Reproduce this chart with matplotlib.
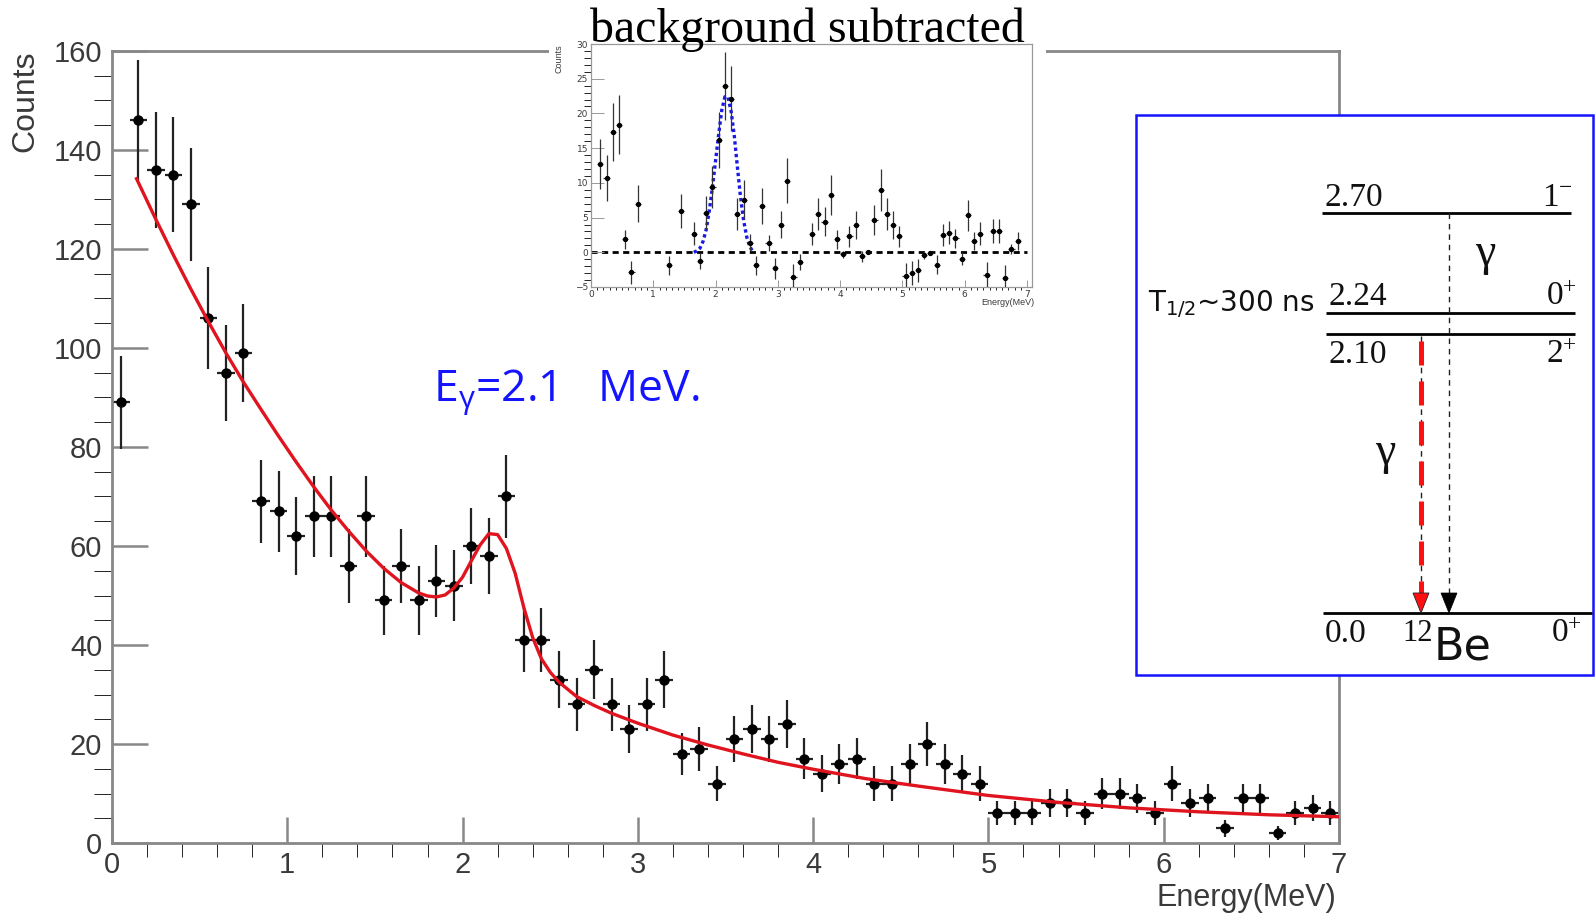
import numpy as np
import matplotlib
matplotlib.use("Agg")
import matplotlib.pyplot as plt
from matplotlib.patches import Rectangle, Polygon

# ---------------- data ----------------
counts = [89, 146, 136, 135, 129, 106, 95, 99, 69, 67,
          62, 66, 66, 56, 66, 49, 56, 49, 53, 52,
          60, 58, 70, 41, 41, 33, 28, 35, 28, 23,
          28, 33, 18, 19, 12, 21, 23, 21, 24, 17,
          14, 16, 17, 12, 12, 16, 20, 16, 14, 12,
          6, 6, 6, 8, 8, 6, 10, 10, 9, 6,
          12, 8, 9, 3, 9, 9, 2, 6, 7, 6]
bin_width = 0.1
energy = np.round(np.arange(len(counts)) * bin_width + bin_width / 2, 2)

fit_x = [0.14, 0.25, 0.35, 0.45, 0.55, 0.65, 0.75, 0.85, 0.95, 1.05, 1.15, 1.25,
         1.35, 1.45, 1.55, 1.65, 1.75, 1.80, 1.85, 1.90, 1.95, 2.00, 2.05, 2.10,
         2.15, 2.20, 2.25, 2.30, 2.35, 2.40, 2.45, 2.50, 2.55, 2.65, 2.75, 2.85,
         3.00, 3.20, 3.40, 3.60, 3.80, 4.00, 4.30, 4.60, 5.00, 5.40, 5.80, 6.20,
         6.60, 7.00]
fit_y = [134.2, 126.0, 118.8, 111.9, 105.3, 99.0, 93.1, 87.6, 82.2, 77.0, 72.0, 67.3,
         63.0, 59.0, 55.5, 52.6, 50.5, 49.9, 49.7, 50.1, 51.5, 53.7, 57.0, 60.2,
         62.5, 62.3, 59.5, 54.5, 47.5, 41.5, 37.2, 34.5, 32.5, 29.6, 27.8, 26.2,
         24.2, 21.8, 19.8, 18.0, 16.3, 14.9, 13.0, 11.5, 9.6, 8.2, 7.1, 6.3,
         5.7, 5.3]

inset_x = [0.15, 0.25, 0.35, 0.45, 0.55, 0.65, 0.75, 1.25, 1.45,
           1.65, 1.75, 1.85, 1.95, 2.05, 2.15, 2.25, 2.35, 2.45, 2.55, 2.65, 2.75,
           2.85, 2.95, 3.05, 3.15, 3.25, 3.35,
           3.55, 3.65, 3.75, 3.85, 3.95, 4.05, 4.15, 4.25, 4.35, 4.45, 4.55, 4.65,
           4.75, 4.85, 4.95, 5.05, 5.15, 5.25, 5.35, 5.45, 5.55, 5.65, 5.75, 5.85,
           5.95, 6.05, 6.15, 6.25, 6.35, 6.45, 6.55, 6.65, 6.75, 6.85]
inset_y = [12.7, 10.7, 17.3, 18.4, 1.9, -2.9, 7.0, -1.9, 5.9,
           2.7, -1.3, 5.7, 9.4, 16.2, 23.9, 22.1, 5.5, 7.6, 1.4, -1.9, 6.7,
           1.3, -2.3, 4.0, 10.3, -3.5, -1.4,
           2.6, 5.5, 4.4, 8.2, 1.9, -0.3, 2.3, 3.9, -0.6, 0.0, 4.6, 9.0,
           5.5, 3.9, 2.3, -3.4, -3.0, -2.6, -0.4, -0.1, -1.8, 2.5, 2.8, 2.0,
           -0.9, 5.3, 1.6, 2.7, -3.2, 3.0, 3.1, -3.7, 0.5, 1.6]

gauss_x = [1.65, 1.70, 1.75, 1.80, 1.85, 1.90, 1.95, 2.00, 2.05, 2.10, 2.15,
           2.20, 2.25, 2.30, 2.35, 2.40, 2.45, 2.50, 2.55, 2.60]
gauss_y = [0.0, 0.2, 0.6, 1.6, 3.3, 6.0, 9.4, 13.2, 17.0, 20.5, 22.4,
           22.3, 20.3, 16.8, 12.3, 8.0, 4.6, 2.2, 0.8, 0.1]

main_xticks = [0, 1, 2, 3, 4, 5, 6, 7]
main_yticks = [0, 20, 40, 60, 80, 100, 120, 140, 160]
inset_yticks = [-5, 0, 5, 10, 15, 20, 25, 30]

level_energies = ["2.70", "2.24", "2.10", "0.0"]
level_spins = [r"$\mathregular{1^{-}}$", r"$\mathregular{0^{+}}$",
               r"$\mathregular{2^{+}}$", r"$\mathregular{0^{+}}$"]

# ---------------- layout / style ----------------
W, H = 1595, 918
GREY = "#888888"
TXT = "#3a3a3a"
BLUE = "#1414ff"
RED = "#e0141e"

fig = plt.figure(figsize=(W / 100, H / 100), dpi=100)
fig.patch.set_facecolor("white")

# ---------- main axes ----------
ax = fig.add_axes([112 / W, 1 - 843 / H, (1339 - 112) / W, (843 - 51) / H], zorder=0)
ax.set_xlim(0, 7)
ax.set_ylim(0, 160)
ax.errorbar(energy, counts, yerr=np.sqrt(counts), xerr=bin_width / 2, fmt="o",
            color="black", ms=6.5, elinewidth=1.6, ecolor="#222222", capsize=0, zorder=2)
ax.plot(fit_x, fit_y, color=RED, lw=2.4, zorder=3)

ax.set_xticks(main_xticks)
ax.set_yticks(main_yticks)
ax.set_xticks(np.arange(0, 7.01, 0.2), minor=True)
ax.set_yticks(np.arange(0, 160.1, 5), minor=True)
for sp in ax.spines.values():
    sp.set_color(GREY)
    sp.set_linewidth(2)
ax.tick_params(axis="both", direction="in", colors=GREY, labelcolor=TXT,
               labelsize=21, width=1.8)
ax.tick_params(axis="y", which="major", length=26, pad=7)
ax.tick_params(axis="y", which="minor", length=13)
ax.tick_params(axis="x", which="major", length=19, pad=6)
ax.tick_params(axis="x", which="minor", length=10)
for lab in ax.get_xticklabels() + ax.get_yticklabels():
    lab.set_family("Liberation Sans")
ax.set_xlabel("Energy(MeV)", fontsize=22, color=TXT, family="Liberation Sans")
ax.xaxis.set_label_coords((1336 - 112) / 1227, (843 - 898) / 792)
ax.xaxis.label.set_ha("right")
ax.xaxis.label.set_va("center")
ax.set_ylabel("Counts", fontsize=23, color=TXT, family="Liberation Sans")
ax.yaxis.set_label_coords((25 - 112) / 1227, 1.0)
ax.yaxis.label.set_ha("right")
ax.yaxis.label.set_va("center")

# ---------- white backdrop for inset ----------
fig.patches.append(Rectangle((549 / W, 1 - 310 / H), 497 / W, 310 / H,
                             transform=fig.transFigure, facecolor="white",
                             edgecolor="none", zorder=0.5))

# ---------- inset axes ----------
ins = fig.add_axes([591 / W, 1 - 287 / H, 441 / W, 243 / H], zorder=1)
ins.set_xlim(0, 7.08)
ins.set_ylim(-5, 30)
ins.axhline(0, xmin=0, xmax=7 / 7.08, color="black", lw=2.0, ls=(0, (2.2, 1.6)), zorder=1)
ins.plot(gauss_x, gauss_y, color="#1a1ae6", lw=2.4, ls=(0, (1, 0.9)), zorder=2)
ins.errorbar(inset_x, inset_y, yerr=np.sqrt(np.abs(inset_y)), xerr=bin_width / 2,
             fmt="o", color="black", ms=2.8, elinewidth=0.9, ecolor="#333333",
             capsize=0, zorder=3)
ins.set_xticks(main_xticks)
ins.set_yticks(inset_yticks)
ins.set_xticks(np.arange(0, 7.01, 0.1), minor=True)
ins.set_yticks(np.arange(-5, 30.1, 1), minor=True)
for sp in ins.spines.values():
    sp.set_color("#999999")
    sp.set_linewidth(0.9)
ins.tick_params(axis="both", direction="in", colors="#999999", labelcolor=TXT,
                labelsize=6.5, width=0.7)
ins.tick_params(axis="y", which="major", length=9, pad=2)
ins.tick_params(axis="y", which="minor", length=5)
ins.tick_params(axis="x", which="major", length=5, pad=2)
ins.tick_params(axis="x", which="minor", length=2.5)
ins.set_xlabel("Energy(MeV)", fontsize=6.5, color=TXT, family="Liberation Sans")
ins.xaxis.set_label_coords(1.005, -0.065)
ins.xaxis.label.set_ha("right")
ins.xaxis.label.set_va("center")
ins.set_ylabel("Counts", fontsize=6.5, color=TXT, family="Liberation Sans")
ins.yaxis.set_label_coords(-0.072, 1.0)
ins.yaxis.label.set_ha("right")
ins.yaxis.label.set_va("center")

# ---------- overlay (pixel coordinates) ----------
ov = fig.add_axes([0, 0, 1, 1], zorder=3)
ov.set_xlim(0, W)
ov.set_ylim(H, 0)
ov.axis("off")
ov.patch.set_alpha(0)

ov.text(590, 42, "background subtracted", fontsize=34.5, family="Liberation Serif",
        color="black", ha="left", va="baseline")

# E_gamma label
ov.text(433, 401, r"E$\mathregular{_{γ}}$=2.1   MeV.", fontsize=32, family="Open Sans",
        color=BLUE, ha="left", va="baseline")

# level scheme box
ov.add_patch(Rectangle((1136, 115), 457, 560, facecolor="white", edgecolor=BLUE,
                       lw=1.8, zorder=1))
level_line_x = [(1322, 1571), (1326, 1575), (1326, 1575), (1323, 1592)]
level_line_y = [213, 313, 334, 613]
level_text_base = [206, 305, 363, 642]
level_spin_right = [1573, 1577, 1577, 1582]
for e, s, (x0, x1), yl, yb, xr in zip(level_energies, level_spins, level_line_x,
                                      level_line_y, level_text_base, level_spin_right):
    ov.plot([x0, x1], [yl, yl], color="black", lw=2.0, zorder=2, solid_capstyle="butt")
    ov.text(x0 + 2, yb, e, fontsize=24, family="Liberation Serif", color="#111111",
            ha="left", va="baseline", zorder=3)
    ov.text(xr, yb, s, fontsize=24, family="Liberation Serif", color="#111111",
            ha="right", va="baseline", zorder=3)

ov.text(1148, 311, r"T$\mathregular{_{1/2}}$~300 ns", fontsize=20, family="DejaVu Sans",
        color="#111111", ha="left", va="baseline", zorder=3)

# transitions
ov.plot([1449, 1449], [213, 598], color="#222222", lw=1.0, ls=(0, (4, 3.5)), zorder=2)
ov.add_patch(Polygon([(1441, 593), (1457, 593), (1449, 613)], closed=True,
                     facecolor="black", edgecolor="black", lw=0.5, zorder=3))
ov.plot([1421, 1421], [336, 598], color="#222222", lw=1.0, ls=(0, (4, 3.5)), zorder=2)
ov.plot([1421, 1421], [341, 598], color="#ff1010", lw=3.6, ls=(0, (4.8, 3.2)), zorder=2.5)
ov.add_patch(Polygon([(1413, 593), (1429, 593), (1421, 613)], closed=True,
                     facecolor="#ff1010", edgecolor="#222222", lw=0.6, zorder=3))

ov.text(1485, 254, "γ", fontsize=33, family="Liberation Serif", color="#111111",
        ha="center", va="center", zorder=3)
ov.text(1385, 453, "γ", fontsize=33, family="Liberation Serif", color="#111111",
        ha="center", va="center", zorder=3)

ov.text(1402, 641, "12", fontsize=22, family="Liberation Serif", color="#111111",
        ha="left", va="baseline", zorder=3)
ov.text(1434, 659, "Be", fontsize=32, family="DejaVu Sans", color="#111111",
        ha="left", va="baseline", zorder=3)

fig.savefig("out.png", dpi=100)
